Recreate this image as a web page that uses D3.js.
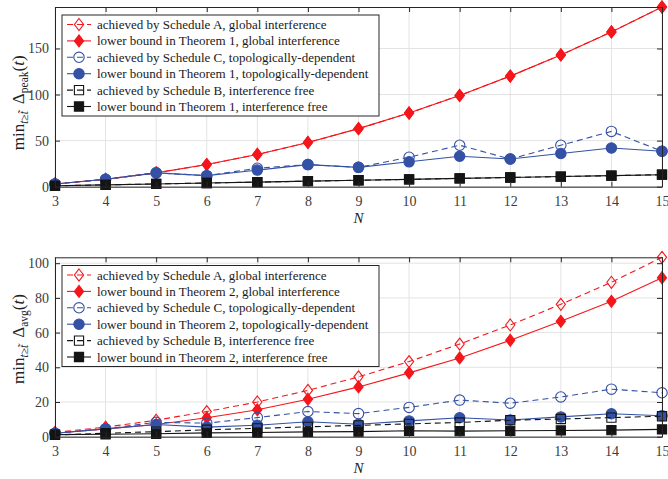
<!DOCTYPE html>
<html>
<head>
<meta charset="utf-8">
<script src="https://cdn.jsdelivr.net/npm/d3@7"></script>
<style>
  body { margin: 0; background: #fff; }
  text { font-family: "Liberation Serif", "DejaVu Serif", serif; }
</style>
</head>
<body>
<div id="chart"></div>
<script>
var width = 668;
var height = 479;

// N values and tick labels
var nValues = [3, 4, 5, 6, 7, 8, 9, 10, 11, 12, 13, 14, 15];
var topTicks = [0, 50, 100, 150];
var botTicks = [0, 20, 40, 60, 80, 100];

// top panel: peak AoI
var peakSchedA = [3, 8, 15, 24, 35, 48, 63, 80, 99, 120, 143, 168, 195];
var peakBoundGlobal = [3, 8, 15, 24, 35, 48, 63, 80, 99, 120, 143, 168, 195];
var peakSchedC = [3, 8, 15, 12, 20, 24, 21, 32, 45, 30, 45, 60, 38.5];
var peakBoundTopo = [3, 8, 15, 12, 18, 24, 21, 27, 33, 30, 36, 42, 38.5];
var peakSchedB = [1, 2, 3, 4, 5, 6, 7, 8, 9, 10, 11, 12, 13];
var peakBoundFree = [1, 2, 3, 4, 5, 6, 7, 8, 9, 10, 11, 12, 13];

// bottom panel: average AoI
var avgSchedA = [2.5, 5.5, 9.5, 14.5, 20, 26.7, 34.5, 43.3, 53.4, 64.4, 76.3, 89, 103.4];
var avgBoundGlobal = [2, 4.5, 7, 10.9, 15.5, 21.6, 28.7, 36.8, 45.4, 55.6, 66.5, 78, 91.6];
var avgSchedC = [2, 4.5, 8.3, 7.8, 11, 14.5, 13.3, 16.9, 21.1, 19.3, 22.9, 27.4, 25.3];
var avgBoundTopo = [2, 4.5, 7, 5.5, 6.6, 8.6, 7.2, 9.1, 10.9, 9.6, 11.4, 13.2, 12.1];
var avgSchedB = [1, 2, 2.9, 4, 4.8, 5.7, 6.5, 7.4, 8.2, 9.5, 10.2, 11, 11.8];
var avgBoundFree = [1.2, 1.4, 1.7, 2.2, 2.4, 2.8, 2.9, 3.4, 3.2, 3.4, 3.6, 3.8, 4.2];

var RED = "#f4161b";
var BLUE = "#3451a5";
var BLACK = "#141414";

var svg = d3.select("#chart").append("svg")
  .attr("width", width)
  .attr("height", height);

function markerPath(shape) {
  if (shape === "diamond") return "M0,-6L4.6,0L0,6L-4.6,0Z";
  if (shape === "circle") return d3.symbol().type(d3.symbolCircle).size(85)();
  return "M-4.6,-4.6L4.6,-4.6L4.6,4.6L-4.6,4.6Z";
}

function drawPanel(cfg) {
  var x = d3.scaleLinear().domain([3, 15]).range([55, 662]);
  var y = d3.scaleLinear().domain([0, cfg.ymax]).range([cfg.bottom, cfg.top]);
  var g = svg.append("g");

  // grid
  g.selectAll(".vgrid").data(nValues).enter().append("line")
    .attr("x1", d => x(d)).attr("x2", d => x(d))
    .attr("y1", cfg.top).attr("y2", cfg.bottom)
    .attr("stroke", "#e3e3e3").attr("stroke-width", 1);
  g.selectAll(".hgrid").data(cfg.ticks).enter().append("line")
    .attr("x1", x(3)).attr("x2", x(15))
    .attr("y1", d => y(d)).attr("y2", d => y(d))
    .attr("stroke", "#e3e3e3").attr("stroke-width", 1);

  // series
  cfg.series.forEach(function (s) {
    var pts = nValues.map((n, i) => [n, s.values[i]]);
    g.append("path").datum(pts)
      .attr("fill", "none")
      .attr("stroke", s.color)
      .attr("stroke-width", 1.1)
      .attr("stroke-dasharray", s.dashed ? "6,4" : null)
      .attr("d", d3.line().x(d => x(d[0])).y(d => y(d[1])));
    g.selectAll(null).data(pts).enter().append("path")
      .attr("transform", d => "translate(" + x(d[0]) + "," + y(d[1]) + ")")
      .attr("d", markerPath(s.shape))
      .attr("fill", s.open ? "none" : s.color)
      .attr("stroke", s.color)
      .attr("stroke-width", 1.1);
  });

  // box + inside ticks
  var xaxis = d3.axisBottom(x).tickValues(nValues).tickSizeInner(-5).tickSizeOuter(0).tickPadding(9);
  var xaxisTop = d3.axisTop(x).tickValues(nValues).tickSizeInner(-5).tickSizeOuter(0).tickFormat("");
  var yaxis = d3.axisLeft(y).tickValues(cfg.ticks).tickSizeInner(-5).tickSizeOuter(0).tickPadding(6);
  var yaxisRight = d3.axisRight(y).tickValues(cfg.ticks).tickSizeInner(-5).tickSizeOuter(0).tickFormat("");

  [[xaxis, "translate(0," + cfg.bottom + ")"], [xaxisTop, "translate(0," + cfg.top + ")"],
   [yaxis, "translate(55,0)"], [yaxisRight, "translate(662,0)"]].forEach(function (a) {
    var ax = g.append("g").attr("transform", a[1]).call(a[0]);
    ax.select(".domain").attr("stroke", "#262626").attr("stroke-width", 1);
    ax.selectAll(".tick line").attr("stroke", "#262626");
    ax.selectAll("text").attr("fill", "#3c3c3c")
      .style("font-family", "'Liberation Serif', serif").style("font-size", "14px");
  });

  // axis labels
  g.append("text")
    .attr("x", (x(3) + x(15)) / 2)
    .attr("y", cfg.bottom + 36)
    .attr("text-anchor", "middle")
    .style("font-size", "15px").style("font-style", "italic")
    .attr("fill", "#222")
    .text("N");

  var yl = g.append("text")
    .attr("transform", "translate(24," + ((cfg.top + cfg.bottom) / 2 + cfg.labelShift) + ") rotate(-90)")
    .attr("text-anchor", "middle")
    .attr("fill", "#222")
    .style("font-size", "17px");
  yl.append("tspan").text("min");
  yl.append("tspan").attr("dy", 4).style("font-size", "11.5px").style("font-style", "italic").text("t");
  yl.append("tspan").style("font-size", "11.5px").text("≥");
  yl.append("tspan").style("font-size", "11.5px").style("font-style", "italic").text("t̃");
  yl.append("tspan").attr("dy", -4).attr("dx", 7).text("Δ");
  yl.append("tspan").attr("dy", 4).style("font-size", "11.5px").text(cfg.sub);
  yl.append("tspan").attr("dy", -4).text("(");
  yl.append("tspan").style("font-style", "italic").text("t");
  yl.append("tspan").text(")");

  // legend
  var lg = g.append("g");
  lg.append("rect")
    .attr("x", 62).attr("y", cfg.legTop)
    .attr("width", 317).attr("height", 101)
    .attr("fill", "#fff").attr("stroke", "#262626").attr("stroke-width", 1);
  cfg.series.forEach(function (s, i) {
    var cy = cfg.legTop + 9.5 + i * 16.4;
    lg.append("line")
      .attr("x1", 67).attr("x2", 91).attr("y1", cy).attr("y2", cy)
      .attr("stroke", s.color).attr("stroke-width", 1.1)
      .attr("stroke-dasharray", s.dashed ? "6,4" : null);
    lg.append("path")
      .attr("transform", "translate(79," + cy + ")")
      .attr("d", markerPath(s.shape))
      .attr("fill", s.open ? "none" : s.color)
      .attr("stroke", s.color).attr("stroke-width", 1.1);
    lg.append("text")
      .attr("x", 97).attr("y", cy + 4.5)
      .attr("fill", "#1a1a1a")
      .style("font-size", "13px")
      .text(s.label);
  });
}

drawPanel({
  top: 7, bottom: 186.7, ymax: 195, ticks: topTicks, sub: "peak", legTop: 15, labelShift: 6,
  series: [
    { values: peakSchedA, color: RED, dashed: true, shape: "diamond", open: true, label: "achieved by Schedule A, global interference" },
    { values: peakBoundGlobal, color: RED, dashed: false, shape: "diamond", open: false, label: "lower bound in Theorem 1, global interference" },
    { values: peakSchedC, color: BLUE, dashed: true, shape: "circle", open: true, label: "achieved by Schedule C, topologically-dependent" },
    { values: peakBoundTopo, color: BLUE, dashed: false, shape: "circle", open: false, label: "lower bound in Theorem 1, topologically-dependent" },
    { values: peakSchedB, color: BLACK, dashed: true, shape: "square", open: true, label: "achieved by Schedule B, interference free" },
    { values: peakBoundFree, color: BLACK, dashed: false, shape: "square", open: false, label: "lower bound in Theorem 1, interference free" }
  ]
});

drawPanel({
  top: 257.3, bottom: 436.7, ymax: 103.4, ticks: botTicks, sub: "avg", legTop: 265.5, labelShift: -8,
  series: [
    { values: avgSchedA, color: RED, dashed: true, shape: "diamond", open: true, label: "achieved by Schedule A, global interference" },
    { values: avgBoundGlobal, color: RED, dashed: false, shape: "diamond", open: false, label: "lower bound in Theorem 2, global interference" },
    { values: avgSchedC, color: BLUE, dashed: true, shape: "circle", open: true, label: "achieved by Schedule C, topologically-dependent" },
    { values: avgBoundTopo, color: BLUE, dashed: false, shape: "circle", open: false, label: "lower bound in Theorem 2, topologically-dependent" },
    { values: avgSchedB, color: BLACK, dashed: true, shape: "square", open: true, label: "achieved by Schedule B, interference free" },
    { values: avgBoundFree, color: BLACK, dashed: false, shape: "square", open: false, label: "lower bound in Theorem 2, interference free" }
  ]
});
</script>
</body>
</html>
